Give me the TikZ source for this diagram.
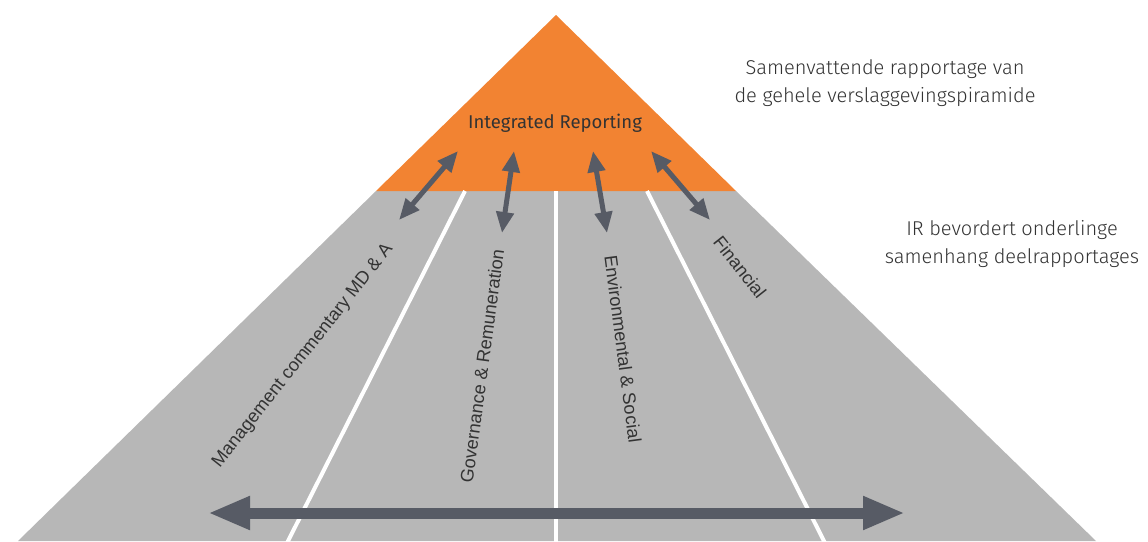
\documentclass[tikz,border=0pt]{standalone}
\usepackage{fontspec}
\setmainfont{Liberation Sans}
\newfontfamily\lightfont{Fira Sans Light}
\newfontfamily\regfont{Fira Sans}
\usetikzlibrary{arrows.meta}
\definecolor{pyrgray}{HTML}{B7B7B7}
\definecolor{pyrorange}{HTML}{F28332}
\definecolor{arrowgray}{HTML}{575B65}
\definecolor{txtgray}{HTML}{333333}
\tikzset{
  smallarrow/.style={draw=arrowgray, line width=5pt,
    {Triangle[width=17pt,length=21pt]}-{Triangle[width=17pt,length=21pt]}, fill=arrowgray},
  bigarrow/.style={draw=arrowgray, line width=11pt,
    {Triangle[width=31pt,length=42pt]}-{Triangle[width=31pt,length=42pt]}},
  divider/.style={draw=white, line width=4pt},
  seglabel/.style={text=txtgray, font=\fontsize{18.2}{22}\selectfont, inner sep=0pt},
  notetext/.style={text=txtgray, font=\lightfont\fontsize{20}{28}\selectfont, align=center, inner sep=0pt},
  titletext/.style={text=black!80, font=\regfont\fontsize{18.5}{22}\selectfont, inner sep=0pt},
}
\begin{document}
\begin{tikzpicture}[x=1pt,y=-1pt]
\useasboundingbox (0,0) rectangle (1148,541);
% pyramid
\coordinate (apex) at (556,15);
\coordinate (bl) at (18,541);
\coordinate (br) at (1096,541);
\coordinate (ol) at (376,191);
\coordinate (or) at (736,191);
\fill[pyrgray] (ol) -- (or) -- (br) -- (bl) -- cycle;
\fill[pyrorange] (apex) -- (or) -- (ol) -- cycle;
% dividers
\coordinate (d1t) at (465,191); \coordinate (d1b) at (286,545);
\coordinate (d2t) at (556,191); \coordinate (d2b) at (556,545);
\coordinate (d3t) at (647,191); \coordinate (d3b) at (826,545);
\draw[divider] (d1t) -- (d1b);
\draw[divider] (d2t) -- (d2b);
\draw[divider] (d3t) -- (d3b);
% small arrows
\coordinate (a1t) at (458,151); \coordinate (a1b) at (399,220);
\coordinate (a2t) at (514,151); \coordinate (a2b) at (502,233);
\coordinate (a3t) at (593,151); \coordinate (a3b) at (607,233);
\coordinate (a4t) at (651,151); \coordinate (a4b) at (710,220);
\draw[smallarrow] (a1t) -- (a1b);
\draw[smallarrow] (a2t) -- (a2b);
\draw[smallarrow] (a3t) -- (a3b);
\draw[smallarrow] (a4t) -- (a4b);
% big arrow
\coordinate (bigl) at (208,513); \coordinate (bigr) at (905,513);
\draw[bigarrow] (bigl) -- (bigr);
% labels
\node[titletext] (ir) at (555,123) {Integrated Reporting};
\node[seglabel, rotate=51.6] (mgmt) at (303,356) {Management commentary MD \& A};
\node[seglabel, rotate=82.3] (gov) at (482,366) {Governance \& Remuneration};
\node[seglabel, rotate=-82.5] (env) at (623,349) {Environmental \& Social};
\node[seglabel, rotate=-51.7] (fin) at (740,267) {Financial};
\node[notetext] (note1) at (885,83) {Samenvattende rapportage van\\de gehele verslaggevingspiramide};
\node[notetext] (note2) at (1012,244) {IR bevordert onderlinge\\samenhang deelrapportages};
\end{tikzpicture}
\end{document}
